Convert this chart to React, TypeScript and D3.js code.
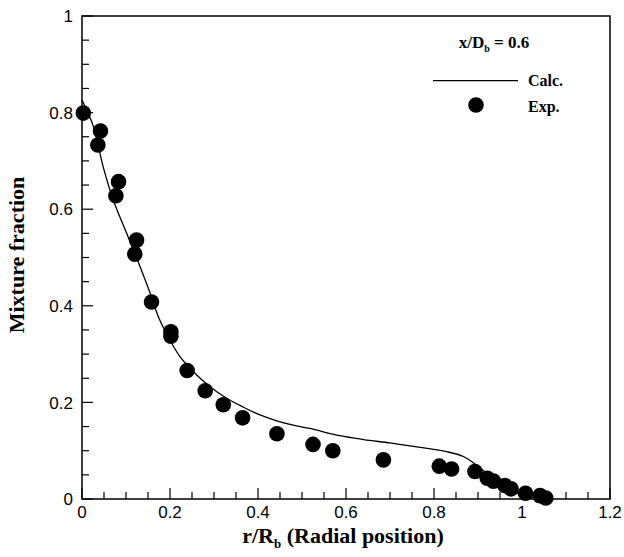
import React from 'react';
import * as d3 from 'd3';

// experimental points (r/Rb, mixture fraction)
const expR = [0.003, 0.036, 0.042, 0.077, 0.083, 0.120, 0.124, 0.158, 0.202, 0.202, 0.239, 0.280, 0.321, 0.365, 0.443, 0.525, 0.570, 0.685, 0.812, 0.840, 0.893, 0.921, 0.935, 0.961, 0.975, 1.008, 1.041, 1.054];
const expF = [0.799, 0.733, 0.762, 0.628, 0.657, 0.507, 0.536, 0.408, 0.346, 0.337, 0.266, 0.224, 0.195, 0.168, 0.135, 0.113, 0.100, 0.081, 0.068, 0.062, 0.057, 0.043, 0.037, 0.028, 0.021, 0.012, 0.007, 0.002];

// calculated profile
const calcR = [0, 0.026, 0.048, 0.071, 0.1015, 0.132, 0.155, 0.175, 0.2, 0.2227, 0.253, 0.291, 0.329, 0.367, 0.4045, 0.4424, 0.48, 0.518, 0.586, 0.64, 0.7, 0.753, 0.829, 0.867, 0.897, 0.92, 0.95, 0.98, 1.01, 1.05];
const calcF = [0.826, 0.771, 0.688, 0.619, 0.55, 0.481, 0.426, 0.374, 0.329, 0.2946, 0.2636, 0.2325, 0.2085, 0.19, 0.174, 0.162, 0.153, 0.146, 0.131, 0.123, 0.116, 0.109, 0.098, 0.088, 0.070, 0.053, 0.032, 0.015, 0.005, 0];

const xMajor = [0, 0.2, 0.4, 0.6, 0.8, 1, 1.2];
const yMajor = [0, 0.2, 0.4, 0.6, 0.8, 1];

const W = 624;
const H = 557;
const left = 82, right = 610, top = 16, bottom = 499;

const serif = '"Liberation Serif", "Times New Roman", serif';
const sans = '"Liberation Sans", Arial, sans-serif';

export default function App() {
  const x = d3.scaleLinear().domain([0, 1.2]).range([left, right]);
  const y = d3.scaleLinear().domain([0, 1]).range([bottom, top]);

  const xMinor = d3.range(0, 1.2001, 0.05);
  const yMinor = d3.range(0, 1.0001, 0.05);
  const isMajor = (v: number) => Math.abs(v * 5 - Math.round(v * 5)) < 1e-6;

  const line = d3.line<number>()
    .x((_, i) => x(calcR[i]))
    .y(d => y(d))
    .curve(d3.curveCatmullRom.alpha(0.5));

  return (
    <svg width={W} height={H} style={{ position: 'absolute', left: 0, top: 0, background: '#fff' }}>
      {/* frame */}
      <rect x={left} y={top} width={right - left} height={bottom - top} fill="none" stroke="#000" strokeWidth={1.5} />

      {/* x ticks */}
      {xMinor.map((v, i) => (
        <line key={'xt' + i} x1={x(v)} x2={x(v)} y1={bottom} y2={bottom - (isMajor(v) ? 11 : 7)} stroke="#000" strokeWidth={1.2} />
      ))}
      {xMajor.map(v => (
        <text key={'xl' + v} x={x(v)} y={518} textAnchor="middle" fontFamily={sans} fontSize={17}>{d3.format('~g')(v)}</text>
      ))}

      {/* y ticks */}
      {yMinor.map((v, i) => (
        <line key={'yt' + i} x1={left} x2={left + (isMajor(v) ? 11 : 7)} y1={y(v)} y2={y(v)} stroke="#000" strokeWidth={1.2} />
      ))}
      {yMajor.map(v => (
        <text key={'yl' + v} x={73} y={y(v)} dy="0.36em" textAnchor="end" fontFamily={sans} fontSize={17}>{d3.format('~g')(v)}</text>
      ))}

      {/* axis titles */}
      <text x={343} y={543} textAnchor="middle" fontFamily={serif} fontWeight="bold" fontSize={22}>
        r/R<tspan fontSize={13} dy={5}>b</tspan><tspan dy={-5}> (Radial position)</tspan>
      </text>
      <text transform="translate(24,255) rotate(-90)" textAnchor="middle" fontFamily={serif} fontWeight="bold" fontSize={22}>
        Mixture fraction
      </text>

      {/* calculated line */}
      <path d={line(calcF) || ''} fill="none" stroke="#000" strokeWidth={1.3} />

      {/* experimental points */}
      {expF.map((v, i) => (
        <circle key={'p' + i} cx={x(expR[i])} cy={y(v)} r={7.8} fill="#000" />
      ))}

      {/* legend */}
      <text x={494} y={48} textAnchor="middle" fontFamily={serif} fontWeight="bold" fontSize={17}>
        x/D<tspan fontSize={10} dy={4}>b</tspan><tspan dy={-4}> = 0.6</tspan>
      </text>
      <line x1={433} x2={518} y1={80.7} y2={80.7} stroke="#000" strokeWidth={1.3} />
      <text x={528} y={86} fontFamily={serif} fontWeight="bold" fontSize={16}>Calc.</text>
      <circle cx={476} cy={105} r={7.8} fill="#000" />
      <text x={528} y={112} fontFamily={serif} fontWeight="bold" fontSize={16}>Exp.</text>
    </svg>
  );
}
